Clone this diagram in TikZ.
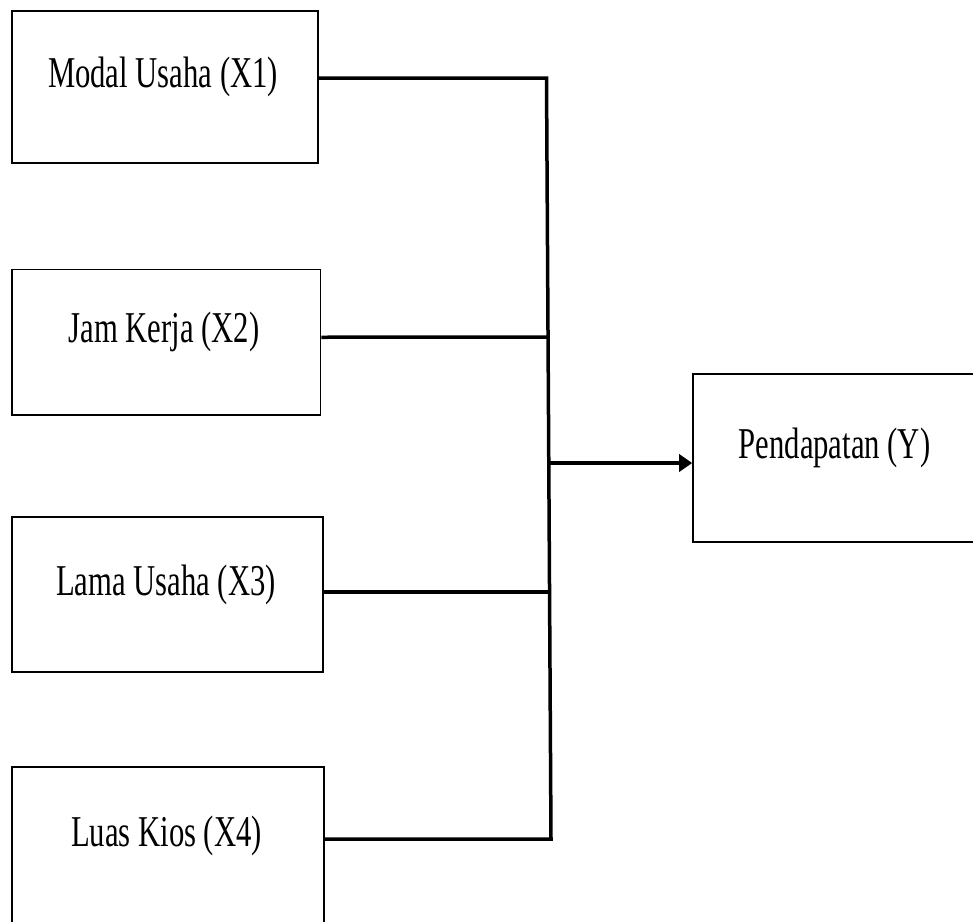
\documentclass[tikz,border=0pt]{standalone}
\usepackage{fontspec}
\usepackage{graphicx}
\setmainfont{Liberation Serif}
\usetikzlibrary{arrows.meta}
\newcommand{\lbltxt}[1]{\scalebox{0.697}[1]{\fontsize{44}{50}\selectfont #1}}
\tikzset{
  boxnode/.style={draw=black, line width=1.6pt, rectangle, inner sep=0pt, minimum width=#1},
  lbl/.style={anchor=base, inner sep=0pt, text=black},
  conn/.style={draw=black, line width=3.5pt, line join=miter, line cap=butt},
  arr/.style={conn, -{Triangle[length=13pt, width=17pt]}}
}
\begin{document}
\begin{tikzpicture}[x=1pt, y=-1pt]
\useasboundingbox (0,0) rectangle (973,921);
\clip (0,0) rectangle (973,921);
\fill[white] (0,0) rectangle (973,921);
% boxes
\node[boxnode=306pt, minimum height=152pt] (b1) at (165,87) {};
\node[boxnode=308.5pt, minimum height=145.5pt] (b2) at (166.25,342.25) {};
\node[boxnode=311pt, minimum height=155pt] (b3) at (167.5,594.5) {};
\node[boxnode=312pt, minimum height=158pt] (b4) at (168,846) {};
\node[boxnode=283pt, minimum height=168pt] (y) at (834.5,458) {};
% labels
\node[lbl] (t1) at (163,87) {\lbltxt{Modal Usaha (X1)}};
\node[lbl] (t2) at (164,342.7) {\lbltxt{Jam Kerja (X2)}};
\node[lbl] (t3) at (166,595) {\lbltxt{Lama Usaha (X3)}};
\node[lbl] (t4) at (166.5,846) {\lbltxt{Luas Kios (X4)}};
\node[lbl] (ty) at (834.5,458) {\lbltxt{Pendapatan (Y)}};
% junction points
\coordinate (j1) at (546.5,78);
\coordinate (j2) at (548,337);
\coordinate (ja) at (548.8,463);
\coordinate (j3) at (549.5,592);
\coordinate (j4) at (551,839);
% connectors
\draw[conn] ([yshift=9pt]b1.east) -- (j1) -- (j4) -- ([yshift=7pt]b4.east);
\draw[conn] ([yshift=5pt]b2.east) -- (j2);
\draw[conn] ([yshift=2.5pt]b3.east) -- (j3);
\draw[arr] (ja) -- ([yshift=-5pt]y.west);
\end{tikzpicture}
\end{document}
